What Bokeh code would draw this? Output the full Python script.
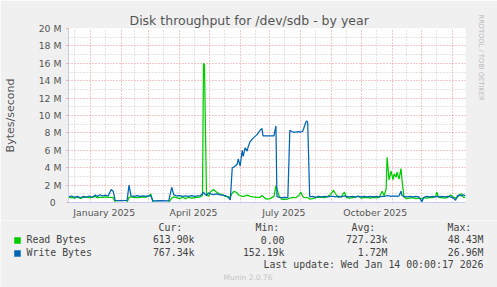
from datetime import datetime
import pandas as pd
from bokeh.plotting import figure
from bokeh.layouts import column
from bokeh.models import (Range1d, FixedTicker, Label, Title)
from bokeh.embed import file_html
from bokeh.resources import INLINE

# ---------------- data (values in MB/s, daily averages) ----
dates = [
    "2024-12-10", "2024-12-13", "2024-12-16", "2024-12-19", "2024-12-22", "2024-12-25",
    "2024-12-28", "2024-12-31", "2025-01-03", "2025-01-06", "2025-01-08", "2025-01-11",
    "2025-01-13", "2025-01-16", "2025-01-19", "2025-01-22", "2025-01-24", "2025-01-26",
    "2025-02-01", "2025-02-07", "2025-02-09", "2025-02-11", "2025-02-14", "2025-02-17",
    "2025-02-20", "2025-02-23", "2025-02-26", "2025-03-01", "2025-03-03", "2025-03-05",
    "2025-03-13", "2025-03-21", "2025-03-24", "2025-03-26", "2025-03-29", "2025-04-01",
    "2025-04-04", "2025-04-07", "2025-04-10", "2025-04-13", "2025-04-16", "2025-04-19",
    "2025-04-22", "2025-04-24", "2025-04-25", "2025-04-26", "2025-04-28", "2025-04-30",
    "2025-05-02", "2025-05-05", "2025-05-08", "2025-05-11", "2025-05-14", "2025-05-17",
    "2025-05-20", "2025-05-22", "2025-05-24", "2025-05-26", "2025-05-29", "2025-05-30",
    "2025-06-01", "2025-06-03", "2025-06-04", "2025-06-06", "2025-06-08", "2025-06-09",
    "2025-06-11", "2025-06-14", "2025-06-18", "2025-06-21", "2025-06-23", "2025-06-24",
    "2025-06-27", "2025-07-01", "2025-07-05", "2025-07-07", "2025-07-08", "2025-07-10",
    "2025-07-13", "2025-07-16", "2025-07-19", "2025-07-21", "2025-07-24", "2025-07-27",
    "2025-07-30", "2025-08-01", "2025-08-03", "2025-08-04", "2025-08-06", "2025-08-07",
    "2025-08-08", "2025-08-10", "2025-08-13", "2025-08-16", "2025-08-19", "2025-08-22",
    "2025-08-25", "2025-08-28", "2025-08-31", "2025-09-03", "2025-09-05", "2025-09-08",
    "2025-09-11", "2025-09-14", "2025-09-16", "2025-09-19", "2025-09-22", "2025-09-25",
    "2025-09-28", "2025-10-01", "2025-10-04", "2025-10-07", "2025-10-10", "2025-10-13",
    "2025-10-16", "2025-10-19", "2025-10-22", "2025-10-24", "2025-10-26", "2025-10-27",
    "2025-10-29", "2025-10-31", "2025-11-02", "2025-11-03", "2025-11-05", "2025-11-06",
    "2025-11-08", "2025-11-10", "2025-11-11", "2025-11-13", "2025-11-16", "2025-11-19",
    "2025-11-22", "2025-11-25", "2025-11-28", "2025-12-01", "2025-12-03", "2025-12-06",
    "2025-12-09", "2025-12-12", "2025-12-15", "2025-12-16", "2025-12-18", "2025-12-21",
    "2025-12-24", "2025-12-27", "2025-12-30", "2026-01-02", "2026-01-04", "2026-01-06",
    "2026-01-08", "2026-01-10", "2026-01-12", "2026-01-14",
]

write_mb = [
    0.65, 0.75, 0.60, 0.70, 0.55, 0.70,
    0.60, 0.75, 0.60, 0.85, 0.70, 0.90,
    0.75, 0.85, 0.75, 1.50, 1.30, 0.25,
    0.22, 0.25, 2.00, 0.75, 0.70, 0.80,
    0.70, 0.75, 0.70, 0.80, 0.75, 0.20,
    0.22, 0.20, 1.75, 0.90, 0.75, 0.80,
    0.70, 0.75, 0.70, 0.80, 0.70, 0.75,
    0.80, 1.00, 1.20, 1.00, 0.80, 1.10,
    1.00, 0.90, 1.00, 0.90, 0.85, 0.80,
    0.60, 0.30, 4.00, 4.10, 4.40, 5.00,
    4.20, 6.00, 5.30, 6.30, 5.90, 6.40,
    7.00, 7.40, 7.80, 8.30, 8.50, 7.65,
    7.65, 7.65, 7.65, 8.80, 0.70, 0.60,
    0.55, 0.60, 0.55, 8.30, 8.10, 8.10,
    8.15, 8.10, 8.20, 8.50, 9.20, 9.40,
    9.20, 0.65, 0.70, 0.60, 0.70, 0.65,
    0.70, 0.65, 0.70, 0.70, 0.65, 0.70,
    0.65, 0.75, 0.70, 0.65, 0.70, 0.65,
    0.70, 0.65, 0.70, 0.65, 0.70, 0.65,
    0.70, 0.65, 0.70, 0.70, 0.75, 0.80,
    0.75, 0.70, 0.75, 0.70, 0.75, 0.70,
    0.75, 1.30, 0.80, 0.70, 0.65, 0.70,
    0.65, 0.70, 0.65, 0.10, 0.60, 0.70,
    0.65, 0.70, 0.65, 0.70, 0.65, 0.70,
    0.65, 0.70, 0.65, 0.50, 0.25, 0.80,
    0.85, 0.75, 0.90, 0.75,
]

read_mb = [
    0.55, 0.60, 0.50, 0.65, 0.45, 0.60,
    0.65, 0.55, 0.60, 0.70, 0.55, 0.60,
    0.60, 0.65, 0.60, 0.60, 0.55, 0.05,
    0.00, 0.02, 0.60, 0.65, 0.60, 0.55,
    0.60, 0.65, 0.60, 0.75, 1.00, 0.05,
    0.00, 0.02, 0.50, 0.65, 0.55, 0.45,
    0.60, 0.45, 0.60, 0.50, 0.55, 0.60,
    0.65, 0.80, 16.0, 15.8, 1.00, 0.70,
    1.20, 1.50, 1.20, 1.00, 0.90, 0.70,
    0.65, 0.60, 1.10, 1.30, 1.10, 0.90,
    0.80, 0.70, 0.70, 0.75, 0.85, 0.80,
    0.70, 0.65, 0.60, 0.60, 0.80, 0.70,
    0.40, 0.45, 0.70, 1.95, 1.60, 0.80,
    0.35, 0.35, 0.40, 0.50, 0.60, 0.55,
    0.80, 1.20, 0.70, 0.60, 0.55, 0.60,
    0.55, 0.40, 0.45, 0.55, 0.60, 0.60,
    0.55, 0.70, 0.90, 1.40, 1.00, 0.60,
    0.70, 1.20, 0.60, 0.50, 0.55, 0.60,
    0.75, 0.50, 0.55, 0.60, 0.50, 0.60,
    0.55, 0.60, 1.30, 0.80, 1.50, 5.20,
    2.60, 3.60, 2.60, 3.30, 2.90, 3.50,
    2.70, 3.90, 2.60, 0.60, 0.45, 0.50,
    0.55, 0.45, 0.50, 0.45, 0.55, 0.50,
    0.60, 0.55, 0.70, 1.20, 0.60, 0.55,
    0.50, 0.60, 0.85, 0.60, 0.50, 0.60,
    0.90, 1.00, 0.60, 0.60,
]

y_ticks_m = [0, 2, 4, 6, 8, 10, 12, 14, 16, 18, 20]
y_tick_labels = ["0\u00a0\u00a0", "2 M", "4 M", "6 M", "8 M", "10 M", "12 M",
                 "14 M", "16 M", "18 M", "20 M"]
x_label_dates = ["2025-01-15", "2025-04-15", "2025-07-15", "2025-10-15"]
x_label_texts = ["January 2025", "April 2025", "July 2025", "October 2025"]
month_starts = ["2025-01-01", "2025-02-01", "2025-03-01", "2025-04-01", "2025-05-01",
                "2025-06-01", "2025-07-01", "2025-08-01", "2025-09-01", "2025-10-01",
                "2025-11-01", "2025-12-01", "2026-01-01"]
mid_months = ["2024-12-16", "2025-01-16", "2025-02-15", "2025-03-16", "2025-04-16",
              "2025-05-16", "2025-06-16", "2025-07-16", "2025-08-16", "2025-09-16",
              "2025-10-16", "2025-11-16", "2025-12-16"]

series_names = ["Read Bytes", "Write Bytes"]
series_colors = ["#00CC00", "#0066B3"]
stat_headers = ["Cur:", "Min:", "Avg:", "Max:"]
cur_vals = ["613.90k", "767.34k"]
min_vals = ["0.00", "152.19k"]
avg_vals = ["727.23k", "1.72M"]
max_vals = ["48.43M", "26.96M"]
title_text = "Disk throughput for /dev/sdb - by year"
last_update = "Last update: Wed Jan 14 00:00:17 2026"
watermark = "RRDTOOL / TOBI OETIKER"
footer = "Munin 2.0.76"

# ---------------- helpers ----------------
EPOCH = datetime(1970, 1, 1)


def ms(s):
    return int((pd.Timestamp(s).to_pydatetime() - EPOCH).total_seconds() * 1000)


def no_align(fig):
    try:
        fig.frame_align = False
    except Exception:
        pass


x_vals = pd.to_datetime(dates)
read_b = [v * 1e6 for v in read_mb]
write_b = [v * 1e6 for v in write_mb]

BG = "#F0F0F0"
TXT = "#555555"
AXC = "#C8CCF0"

# geometry (canvas px)
W = 497
H1, H2 = 220, 67
FL, FR, FT, FB = 67, 467, 28, 203

# ---------------- main chart ----------------
p = figure(width=W, height=H1, x_axis_type="datetime",
           x_range=Range1d(datetime(2024, 12, 10), datetime(2026, 1, 14)),
           y_range=Range1d(0, 20e6),
           output_backend="svg", toolbar_location=None,
           min_border_left=FL, min_border_right=W - FR,
           min_border_top=FT, min_border_bottom=H1 - FB,
           background_fill_color="#FFFFFF", border_fill_color=BG,
           outline_line_color=None)
no_align(p)

p.title.text = title_text
p.title.align = "left"
p.title.offset = 61
p.title.standoff = 1
p.title.text_font = "DejaVu Sans"
p.title.text_font_size = "12.5px"
p.title.text_font_style = "normal"
p.title.text_color = TXT

p.add_layout(Title(text=watermark, align="left", offset=-14, standoff=22,
                   text_font="DejaVu Sans", text_font_size="6.7px",
                   text_font_style="normal", text_color="#B8B8B8"), "right")

# grids
p.ygrid.ticker = FixedTicker(ticks=[v * 1e6 for v in y_ticks_m],
                             minor_ticks=[(v + 1) * 1e6 for v in y_ticks_m[:-1]])
p.xgrid.ticker = FixedTicker(ticks=[ms(d) for d in month_starts],
                             minor_ticks=[ms(d) for d in mid_months])
for g in (p.xgrid, p.ygrid):
    g.grid_line_color = "#EE9090"
    g.grid_line_dash = "1 2"
    g.grid_line_width = 1
    g.minor_grid_line_color = "#C8C8C8"
    g.minor_grid_line_dash = "1 2"
    g.minor_grid_line_width = 1

# y axis
ya = p.yaxis[0]
ya.ticker = FixedTicker(ticks=[v * 1e6 for v in y_ticks_m])
ya.major_label_overrides = {int(v * 1e6): t for v, t in zip(y_ticks_m, y_tick_labels)}
ya.axis_label = "Bytes/second"
ya.axis_label_text_font = "DejaVu Sans"
ya.axis_label_text_font_size = "11px"
ya.axis_label_text_font_style = "normal"
ya.axis_label_text_color = TXT
ya.axis_label_standoff = 19
ya.major_label_text_font = "DejaVu Sans"
ya.major_label_text_font_size = "9.3px"
ya.major_label_text_color = TXT
ya.major_label_standoff = 5
ya.major_tick_in = 0
ya.major_tick_out = 2
ya.major_tick_line_color = "#E8A0A0"
ya.minor_tick_line_color = None
ya.axis_line_color = AXC

# x axis
xa = p.xaxis[0]
xa.ticker = FixedTicker(ticks=[ms(d) for d in x_label_dates])
xa.major_label_overrides = {ms(d): t for d, t in zip(x_label_dates, x_label_texts)}
xa.major_label_text_font = "DejaVu Sans"
xa.major_label_text_font_size = "9.3px"
xa.major_label_text_color = TXT
xa.major_label_standoff = 4
xa.major_tick_in = 0
xa.major_tick_out = 0
xa.major_tick_line_color = None
xa.minor_tick_line_color = None
xa.axis_line_color = AXC

# data lines
p.line(x_vals, read_b, line_color=series_colors[0], line_width=1.25)
p.line(x_vals, write_b, line_color=series_colors[1], line_width=1.25)

# ---------------- legend / stats strip (pixel coordinates of the strip) -------
q = figure(width=W, height=H2, x_range=Range1d(0, W), y_range=Range1d(H2, 0),
           output_backend="svg", toolbar_location=None,
           x_axis_location=None, y_axis_location=None,
           min_border=0, min_border_left=0, min_border_right=0,
           min_border_top=0, min_border_bottom=0,
           background_fill_color=BG, border_fill_color=BG,
           outline_line_color=None)
no_align(q)
q.xgrid.visible = False
q.ygrid.visible = False

Y0 = H1  # canvas y of the strip's top edge
ROWS = [239, 252]  # canvas y of the two legend rows

# legend swatches + names
q.scatter(x=[17] * len(series_names), y=[r - Y0 + 1 for r in ROWS],
          marker="square", size=6, fill_color=series_colors,
          line_color=series_colors, line_width=0.5)

MONO = dict(text_font="DejaVu Sans Mono", text_font_size="9.9px",
            text_color="#444444", text_baseline="middle")

for name, ry in zip(series_names, ROWS):
    q.add_layout(Label(x=26, y=ry - Y0, text=name, text_align="left", **MONO))

for txt, left in zip(stat_headers, [158, 255, 351, 447]):
    q.add_layout(Label(x=left, y=227 - Y0, text=txt, text_align="left", **MONO))

rights = [194, 284, 387, 483]
for ry, vals in zip(ROWS, zip(cur_vals, min_vals, avg_vals, max_vals)):
    for v, rgt in zip(vals, rights):
        q.add_layout(Label(x=rgt, y=ry - Y0, text=v, text_align="right", **MONO))

q.add_layout(Label(x=483, y=264 - Y0, text=last_update, text_align="right", **MONO))
q.add_layout(Label(x=247.5, y=277 - Y0, text=footer, text_align="center",
                   text_baseline="middle", text_font="DejaVu Sans",
                   text_font_size="7.5px", text_color="#C4C4C4"))

layout = column(p, q, spacing=0)
open("out.html", "w").write(file_html(layout, INLINE))
